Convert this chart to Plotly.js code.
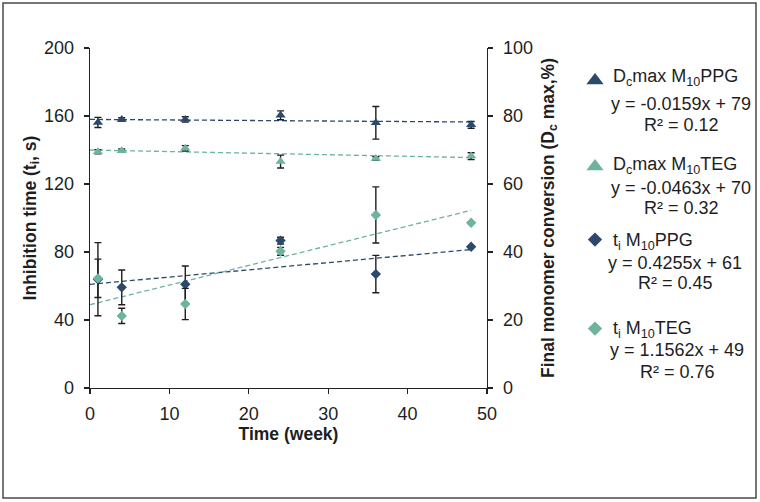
<!DOCTYPE html>
<html>
<head>
<meta charset="utf-8">
<script src="https://cdn.plot.ly/plotly-3.0.1.min.js"></script>
<style>html,body{margin:0;padding:0;background:#fff;}#chart{width:760px;height:502px;}</style>
</head>
<body>
<div id="chart"></div>
<script>
// ---- data ----
const weeks = [1, 4, 12, 24, 36, 48];

const dcPPG    = [78.1, 79.0, 79.0, 80.2, 78.0, 77.4];
const dcPPGErr = [1.5, 0.5, 0.8, 1.3, 4.8, 1.0];
const dcTEG    = [69.5, 69.8, 70.5, 66.6, 67.5, 68.2];
const dcTEGErr = [0.6, 0.5, 0.8, 1.9, 0.5, 1.0];

const tiPPG    = [64.0, 59.2, 61.0, 86.7, 67.0, 83.1];
const tiPPGErr = [21.5, 10.2, 10.8, 2.0, 11.0, 0];
const tiTEG    = [64.5, 42.4, 49.4, 80.4, 101.8, 97.2];
const tiTEGErr = [11.3, 4.5, 9.2, 2.3, 16.5, 0];

// linear trendlines (slope, intercept) as given in the legend
const trendSlope  = [-0.0159, -0.0463, 0.4255, 1.1562];
const trendInter  = [79, 70, 61, 49];
const trendRange  = [0, 48];

const legendNames = ['D<sub>c</sub>max M<sub>10</sub>PPG', 'D<sub>c</sub>max M<sub>10</sub>TEG',
                     't<sub>i</sub> M<sub>10</sub>PPG', 't<sub>i</sub> M<sub>10</sub>TEG'];
const eqLines = ['y = -0.0159x + 79', 'y = -0.0463x + 70', 'y = 0.4255x + 61', 'y = 1.1562x + 49'];
const r2Lines = ['R² = 0.12', 'R² = 0.32', 'R² = 0.45', 'R² = 0.76'];

// ---- styling ----
const NAVY = '#2b4a6b';
const TEAL = '#6db39e';
const INK = '#1e1e1e';
const FONT = 'Arial, "Liberation Sans", sans-serif';

const colors = [NAVY, TEAL, NAVY, TEAL];
const symbols = ['triangle-up', 'triangle-up', 'diamond', 'diamond'];
const plotSizes = [9, 9, 8, 8];
const keySizes = [15, 15, 11, 11];
const yaxes = ['y2', 'y2', 'y', 'y'];
const series = [dcPPG, dcTEG, tiPPG, tiTEG];
const errs = [dcPPGErr, dcTEGErr, tiPPGErr, tiTEGErr];

const traces = [];
// trendlines first (under markers)
for (let i = 0; i < 4; i++) {
  traces.push({
    x: trendRange,
    y: trendRange.map(v => trendSlope[i] * v + trendInter[i]),
    yaxis: yaxes[i], mode: 'lines', showlegend: false, hoverinfo: 'skip',
    line: {color: colors[i], width: 1.3, dash: '5px,3px'}
  });
}
// data with error bars
for (let i = 0; i < 4; i++) {
  traces.push({
    x: weeks, y: series[i], yaxis: yaxes[i], mode: 'markers', showlegend: false,
    marker: {symbol: symbols[i], size: plotSizes[i], color: colors[i]},
    error_y: {type: 'data', array: errs[i], visible: true, color: INK, thickness: 1.4, width: 3.5}
  });
}
// legend keys (one legend per entry so each can sit at its own place); names drawn as annotations
const legendKeys = ['legend', 'legend2', 'legend3', 'legend4'];
for (let i = 0; i < 4; i++) {
  traces.push({
    x: [null], y: [null], yaxis: yaxes[i], mode: 'markers', name: ' ',
    legend: legendKeys[i],
    marker: {symbol: symbols[i], size: keySizes[i], color: colors[i]}
  });
}

// helpers to place things by pixel position in the figure
const PL = 90, PR = 487, PT = 48, PB = 388;
const px = v => (v - PL) / (PR - PL);
const py = v => (PB - v) / (PB - PT);

const keyY = [81, 167, 240, 329];
const nameY = [77, 165, 241, 329];
const eqY = [104, 188, 263, 350];
const r2Y = [125, 208, 283, 372];
const eqX = [681, 681, 675, 677];

function legendAt(yPix) {
  return {
    x: px(575), y: py(yPix), xanchor: 'left', yanchor: 'middle', bgcolor: 'rgba(0,0,0,0)',
    font: {family: FONT, size: 14, color: INK}, itemwidth: 30
  };
}
const layout = {
  width: 760, height: 502,
  margin: {l: PL, r: 760 - PR, t: PT, b: 502 - PB, pad: 0},
  paper_bgcolor: '#fff', plot_bgcolor: '#fff',
  font: {family: FONT, size: 18, color: INK},
  showlegend: true,
  xaxis: {
    range: [0, 50], dtick: 10, tick0: 0, showgrid: false, zeroline: false,
    showline: true, linecolor: '#222', linewidth: 1.3,
    ticks: 'outside', ticklen: 5, tickcolor: '#222', tickwidth: 1.3,
    ticklabelstandoff: 4,
    tickfont: {family: FONT, size: 18, color: INK},
    title: {text: '<b>Time (week)</b>', font: {family: FONT, size: 17.5, color: INK}, standoff: 0},
    automargin: false, fixedrange: true
  },
  yaxis: {
    range: [0, 200], dtick: 40, tick0: 0, showgrid: false, zeroline: false,
    showline: true, linecolor: '#222', linewidth: 1.3,
    ticks: 'outside', ticklen: 5, tickcolor: '#222', tickwidth: 1.3,
    ticklabelstandoff: 6,
    tickfont: {family: FONT, size: 18, color: INK},
    title: {text: '<b>Inhibition time (t<sub>i</sub>, s)</b>', font: {family: FONT, size: 17.5, color: INK}, standoff: 3},
    automargin: false, fixedrange: true
  },
  yaxis2: {
    range: [0, 100], dtick: 20, tick0: 0, overlaying: 'y', side: 'right', anchor: 'x',
    showgrid: false, zeroline: false,
    showline: true, linecolor: '#222', linewidth: 1.3,
    ticks: 'outside', ticklen: 5, tickcolor: '#222', tickwidth: 1.3,
    ticklabelstandoff: 6,
    tickfont: {family: FONT, size: 18, color: INK},
    title: {text: '<b>Final monomer conversion (D<sub>c</sub> max,%)</b>', font: {family: FONT, size: 17.5, color: INK}, standoff: 9},
    automargin: false, fixedrange: true
  },
  legend:  legendAt(keyY[0]),
  legend2: legendAt(keyY[1]),
  legend3: legendAt(keyY[2]),
  legend4: legendAt(keyY[3]),
  annotations: [],
  shapes: [{
    type: 'rect', xref: 'paper', yref: 'paper',
    x0: px(3), x1: px(756), y0: py(498), y1: py(3),
    line: {color: '#4a4a4a', width: 1.5}, fillcolor: 'rgba(0,0,0,0)', layer: 'below'
  }]
};

for (let i = 0; i < 4; i++) {
  layout.annotations.push({
    xref: 'paper', yref: 'paper', x: px(611), y: py(nameY[i]), xanchor: 'left', yanchor: 'middle',
    text: legendNames[i], showarrow: false, font: {family: FONT, size: 18, color: INK}
  });
  layout.annotations.push({
    xref: 'paper', yref: 'paper', x: px(eqX[i]), y: py(eqY[i]), xanchor: 'center', yanchor: 'middle',
    text: eqLines[i], showarrow: false, font: {family: FONT, size: 18, color: INK}
  });
  layout.annotations.push({
    xref: 'paper', yref: 'paper', x: px(eqX[i]), y: py(r2Y[i]), xanchor: 'center', yanchor: 'middle',
    text: r2Lines[i], showarrow: false, font: {family: FONT, size: 18, color: INK}
  });
}

Plotly.newPlot('chart', traces, layout, {displayModeBar: false, staticPlot: true});
</script>
</body>
</html>
